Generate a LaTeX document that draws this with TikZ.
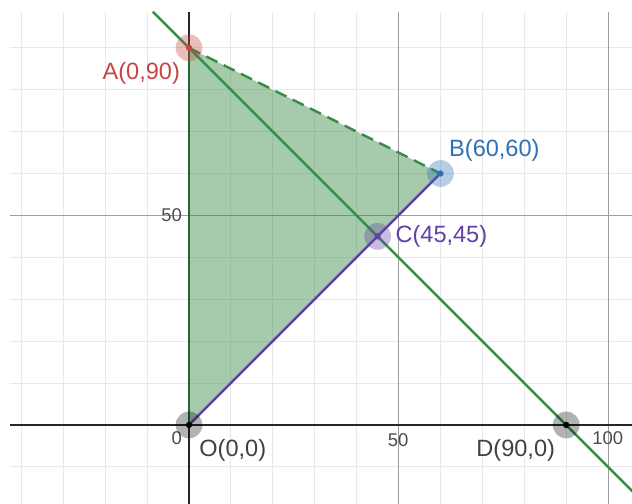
\documentclass[tikz,border=0pt]{standalone}
\usepackage{fontspec}
\setmainfont{Liberation Sans}
\usepackage{xcolor}
\usetikzlibrary{positioning}
\definecolor{ptred}{HTML}{C74440}
\definecolor{ptblue}{HTML}{2D70B3}
\definecolor{ptgreen}{HTML}{388C46}
\definecolor{ptpurple}{HTML}{6042A6}

\begin{document}
\begin{tikzpicture}[x=0.0838cm, y=0.0838cm, font=\fontsize{13.4}{16}\selectfont,
  minor/.style={draw=black!9, line width=0.6pt},
  major/.style={draw=black!38, line width=0.6pt},
  axis/.style={draw=black!85, line width=1.1pt},
  ptlabel/.style={inner sep=0pt},
  ticklabel/.style={font=\fontsize{10.5}{12}\selectfont, text=black!70, inner sep=0pt}]
  \useasboundingbox (-45.1,-18.85) rectangle (105.7,101.4);
  \clip (-45.1,-18.85) rectangle (105.7,101.4);
  % Grid
  \foreach \x in {-40,-30,...,100}
    \draw[minor] (\x,-18.85) -- (\x,98.6);
  \foreach \y in {-10,0,...,90}
    \draw[minor] (-42.7,\y) -- (105.7,\y);
  \draw[major] (50,-18.85) -- (50,98.6);
  \draw[major] (100,-18.85) -- (100,98.6);
  \draw[major] (-42.7,50) -- (105.7,50);
  % Axes
  \draw[axis] (-42.7,0) -- (105.7,0);
  \draw[axis] (0,-18.85) -- (0,98.6);
  \node[ticklabel] (t0) at (-2.9,-3.1) {0};
  \node[ticklabel] (tx50) at (49.9,-3.6) {50};
  \node[ticklabel] (tx100) at (99.9,-3.1) {100};
  \node[ticklabel, anchor=east] (ty50) at (-1.6,50) {50};
  % Points
  \coordinate (O) at (0,0);
  \coordinate (A) at (0,90);
  \coordinate (B) at (60,60);
  \coordinate (C) at (45,45);
  \coordinate (D) at (90,0);
  \coordinate (L1) at (-8.6,98.6);
  \coordinate (L2) at (110,-20);
  % Feasible region
  \fill[ptgreen, opacity=0.45] (O) -- (A) -- (B) -- cycle;
  \draw[ptgreen!70!black, line width=1.3pt] (O) -- (A);
  \draw[ptgreen, line width=1.4pt, dashed, dash pattern=on 7pt off 4pt] (A) -- (B);
  \draw[ptpurple, line width=1.4pt] (O) -- (B);
  \draw[ptgreen, line width=1.4pt] (L1) -- (L2);
  % Markers
  \fill[ptred, opacity=0.35] (A) circle (3.2);
  \fill[ptred] (A) circle (0.75);
  \fill[ptblue, opacity=0.35] (B) circle (3.2);
  \fill[ptblue] (B) circle (0.75);
  \fill[ptpurple, opacity=0.35] (C) circle (3.2);
  \fill[ptpurple] (C) circle (0.75);
  \fill[black, opacity=0.3] (O) circle (3.2);
  \fill[black] (O) circle (0.75);
  \fill[black, opacity=0.3] (D) circle (3.2);
  \fill[black] (D) circle (0.75);
  % Labels
  \node[ptlabel, text=ptred, anchor=east] (labA) at (-2.1,83.9) {A(0,90)};
  \node[ptlabel, text=ptblue, anchor=west] (labB) at (62,65.6) {B(60,60)};
  \node[ptlabel, text=ptpurple, anchor=west] (labC) at (49.2,45) {C(45,45)};
  \node[ptlabel, text=black!75, anchor=west] (labO) at (2.4,-6) {O(0,0)};
  \node[ptlabel, text=black!75, anchor=east] (labD) at (87.4,-6) {D(90,0)};
\end{tikzpicture}
\end{document}
